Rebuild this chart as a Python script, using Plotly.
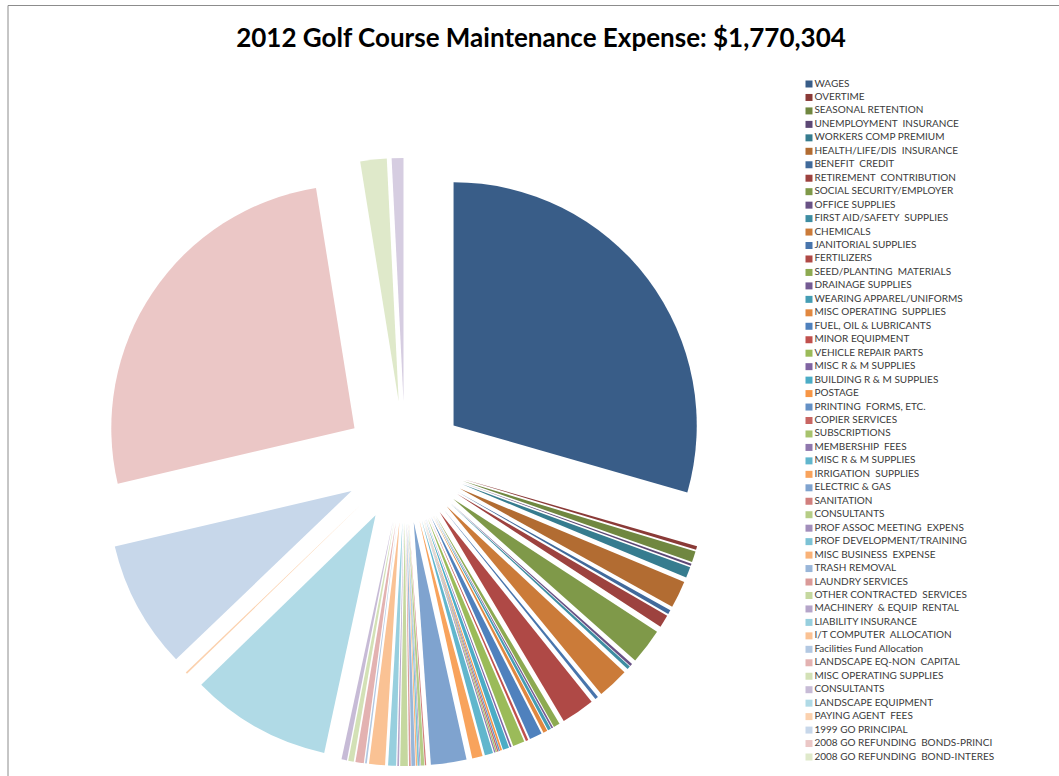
import plotly.graph_objects as go

TITLE = "2012 Golf Course Maintenance Expense: $1,770,304"

# Expense lines, in ledger order (clockwise from 12 o'clock)
categories = [
    "WAGES", "OVERTIME", "SEASONAL RETENTION", "UNEMPLOYMENT  INSURANCE",
    "WORKERS COMP PREMIUM", "HEALTH/LIFE/DIS  INSURANCE", "BENEFIT  CREDIT",
    "RETIREMENT  CONTRIBUTION", "SOCIAL SECURITY/EMPLOYER", "OFFICE SUPPLIES",
    "FIRST AID/SAFETY  SUPPLIES", "CHEMICALS", "JANITORIAL SUPPLIES", "FERTILIZERS",
    "SEED/PLANTING  MATERIALS", "DRAINAGE SUPPLIES", "WEARING APPAREL/UNIFORMS",
    "MISC OPERATING  SUPPLIES", "FUEL, OIL & LUBRICANTS", "MINOR EQUIPMENT",
    "VEHICLE REPAIR PARTS", "MISC R & M SUPPLIES", "BUILDING R & M SUPPLIES",
    "POSTAGE", "PRINTING  FORMS, ETC.", "COPIER SERVICES", "SUBSCRIPTIONS",
    "MEMBERSHIP  FEES", "MISC R & M SUPPLIES", "IRRIGATION  SUPPLIES",
    "ELECTRIC & GAS", "SANITATION", "CONSULTANTS", "PROF ASSOC MEETING  EXPENS",
    "PROF DEVELOPMENT/TRAINING", "MISC BUSINESS  EXPENSE", "TRASH REMOVAL",
    "LAUNDRY SERVICES", "OTHER CONTRACTED  SERVICES", "MACHINERY  & EQUIP  RENTAL",
    "LIABILITY INSURANCE", "I/T COMPUTER  ALLOCATION", "Facilities Fund Allocation",
    "LANDSCAPE EQ-NON  CAPITAL", "MISC OPERATING SUPPLIES", "CONSULTANTS",
    "LANDSCAPE EQUIPMENT", "PAYING AGENT  FEES", "1999 GO PRINCIPAL",
    "2008 GO REFUNDING  BONDS-PRINCI", "2008 GO REFUNDING  BOND-INTERES",
    "OTHER",
]

# Annual amounts in dollars
amounts = [
    521200, 4400, 12800, 2500, 12800, 32000, 4900, 14800, 41800, 3000,
    3900, 36900, 3900, 39300, 7400, 2000, 3900, 4900, 14800, 3000,
    13800, 2000, 7400, 2000, 1500, 1500, 1500, 1500, 9800, 12300,
    41800, 1500, 3900, 1000, 2000, 1500, 4400, 2000, 8900, 2000,
    9300, 18700, 2000, 9800, 6400, 6400, 165200, 2000, 150500, 462700,
    31000, 13800,
]

# Only this many entries fit in the legend column
LEGEND_ROWS = 51

# Office-theme accents, varied from dark to light in groups of six
ACCENTS = ["#4F81BD", "#C0504D", "#9BBB59", "#8064A2", "#4BACC6", "#F79646"]
GROUP_LUM = [-0.28, -0.18, -0.09, 0.0, 0.12, 0.27, 0.42, 0.56, 0.68]


def vary(hex_color, amt):
    rgb = [int(hex_color[i:i + 2], 16) for i in (1, 3, 5)]
    if amt < 0:
        rgb = [c * (1 + amt) for c in rgb]
    else:
        rgb = [c + (255 - c) * amt for c in rgb]
    return "#{:02X}{:02X}{:02X}".format(*(round(c) for c in rgb))


colors = [vary(ACCENTS[i % 6], GROUP_LUM[i // 6]) for i in range(len(categories))]

W, H = 1059, 776
PIE_CX, PIE_CY, PIE_BOX = 405, 462, 608

fig = go.Figure()

fig.add_trace(go.Pie(
    labels=[str(i) for i in range(len(categories))],
    values=amounts,
    hovertext=categories,
    hovertemplate="%{hovertext}<br>$%{value:,}<br>%{percent}<extra></extra>",
    sort=False,
    direction="clockwise",
    rotation=0,
    pull=0.25,
    textinfo="none",
    marker=dict(colors=colors, line=dict(width=0)),
    domain=dict(
        x=[(PIE_CX - PIE_BOX / 2) / W, (PIE_CX + PIE_BOX / 2) / W],
        y=[(H - PIE_CY - PIE_BOX / 2) / H, (H - PIE_CY + PIE_BOX / 2) / H],
    ),
    showlegend=False,
))

# Legend column: one square marker and label per expense line
rows = list(range(LEGEND_ROWS))
fig.add_trace(go.Scatter(
    x=[0] * LEGEND_ROWS,
    y=rows,
    mode="markers+text",
    marker=dict(symbol="square", size=7, color=colors[:LEGEND_ROWS], line=dict(width=0)),
    text=categories[:LEGEND_ROWS],
    textposition="middle right",
    textfont=dict(family="Lato", size=10, color="#3A3A3A"),
    cliponaxis=False,
    hoverinfo="skip",
    showlegend=False,
))

fig.update_layout(
    width=W,
    height=H,
    margin=dict(l=0, r=0, t=0, b=0),
    paper_bgcolor="white",
    plot_bgcolor="white",
    title=dict(
        text=TITLE,
        x=541 / W,
        xanchor="center",
        y=1 - 38 / H,
        yanchor="middle",
        yref="container",
        font=dict(family="Lato", size=26, color="#000000", weight="bold"),
    ),
    xaxis=dict(domain=[809 / W, 1.0], range=[0, 1], visible=False, fixedrange=True),
    yaxis=dict(domain=[19 / H, 692 / H], range=[LEGEND_ROWS - 1, 0], visible=False, fixedrange=True),
    shapes=[dict(
        type="rect", xref="paper", yref="paper",
        x0=8 / W, x1=1.02, y0=-0.02, y1=1 - 5.5 / H,
        line=dict(color="#8C8C8C", width=1),
        fillcolor="rgba(0,0,0,0)",
        layer="below",
    )],
)

fig.write_html("out.html")
